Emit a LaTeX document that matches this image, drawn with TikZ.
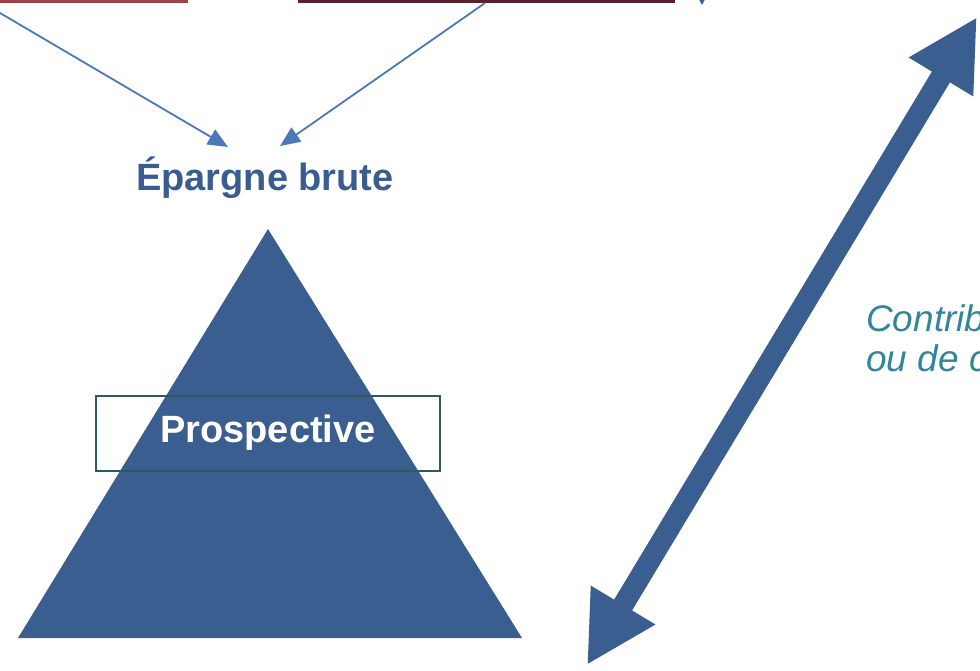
\documentclass[tikz,border=0pt]{standalone}
\usepackage{fontspec}
\setmainfont{Liberation Sans}
\usetikzlibrary{arrows.meta}
\definecolor{triblue}{HTML}{3A5E90}
\definecolor{textblue}{HTML}{3A5D91}
\definecolor{lineblue}{HTML}{4A78B8}
\definecolor{boxteal}{HTML}{2E5B5B}
\definecolor{contribteal}{HTML}{33869A}
\definecolor{boxred}{HTML}{A0404A}
\definecolor{boxdark}{HTML}{5A2228}
\tikzset{
  thinarrow/.style={draw=lineblue, line width=1.8pt, -{Triangle[length=20pt,width=17pt]}},
  bigtext/.style={font=\bfseries\fontsize{38}{42}\selectfont},
  contribtext/.style={font=\itshape\fontsize{37}{40}\selectfont, text=contribteal, anchor=base west, inner sep=0pt},
}
\begin{document}
\begin{tikzpicture}[x=1pt,y=-1pt]
\useasboundingbox (0,0) rectangle (980,670);
\clip (0,0) rectangle (980,670);
\fill[white] (0,0) rectangle (980,670);
% top boxes (cut off)
\node[draw=boxred, line width=3pt, minimum width=210pt, minimum height=60pt, anchor=south east, inner sep=0pt] (boxA) at (188,2.5) {};
\node[draw=boxdark, line width=3pt, minimum width=374pt, minimum height=60pt, anchor=south west, inner sep=0pt] (boxB) at (298,2.5) {};
% small arrow tip at top
\coordinate (tipS) at (702,-20);
\coordinate (tipE) at (702,5);
\draw[draw=triblue, line width=1.5pt, -{Triangle[length=7pt,width=7pt]}] (tipS) -- (tipE);
% texts
\node[bigtext, text=textblue] (ep) at (265,178) {Épargne brute};
% arrows to épargne
\coordinate (a1) at (-17,3);
\coordinate (a2) at (485,3);
\coordinate (t1) at (228,147);
\coordinate (t2) at (280,146);
\draw[thinarrow] (a1) -- (t1);
\draw[thinarrow] (a2) -- (t2);
% triangle
\coordinate (apex) at (268,229);
\coordinate (bl) at (18,638);
\coordinate (br) at (522,638);
\fill[triblue] (apex) -- (br) -- (bl) -- cycle;
\node[draw=boxteal, line width=1.5pt, minimum width=344pt, minimum height=75pt, inner sep=0pt] (pbox) at (268,433.5) {};
\node[bigtext, text=white] (ptext) at (268,433) {Prospective};
% double arrow
\coordinate (d0) at (587,665);
\coordinate (d1) at (977,17);
\draw[draw=triblue, line width=21pt, {Triangle[length=70pt,width=70pt]}-{Triangle[length=70pt,width=70pt]}] (d0) -- (d1);
% contrib text
\node[contribtext] (c1) at (866,331) {Contrib};
\node[contribtext] (c2) at (866,371) {ou de c};
\end{tikzpicture}
\end{document}
